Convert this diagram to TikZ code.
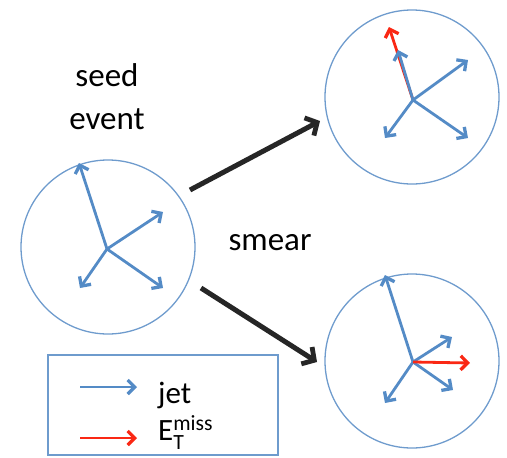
\documentclass[tikz,border=0pt]{standalone}
\usepackage{amsmath}
\usepackage{fontspec}
\setmainfont{Carlito}
\usepackage{tikz}
\usetikzlibrary{arrows.meta,positioning}
\definecolor{jetblue}{RGB}{84,139,198}
\definecolor{ringblue}{RGB}{110,155,205}
\definecolor{metred}{RGB}{250,40,20}
\definecolor{smeargray}{RGB}{38,38,38}

\begin{document}
\begin{tikzpicture}[
  x=1pt, y=-1pt,
  bigfont/.style={font=\fontsize{33}{43}\selectfont},
  legfont/.style={font=\fontsize{31}{36}\selectfont},
  evt/.style={draw=ringblue, line width=1.3pt, circle, minimum size=174pt, inner sep=0pt},
  jet/.style={line width=2.8pt, draw=jetblue, -{Straight Barb[length=7pt, width=14pt, line width=3.3pt]}},
  met/.style={line width=2.8pt, draw=metred, -{Straight Barb[length=7pt, width=14pt, line width=3.3pt]}},
  arr/.style={line width=5pt, draw=smeargray, -{Straight Barb[length=9pt, width=20pt, line width=4.8pt]}}
]
\useasboundingbox (0,0) rectangle (507,458);
% seed event
\node[evt] (seed) at (108,247) {};
\coordinate (s0) at (107,249);
\coordinate (s1) at (79,163);
\coordinate (s2) at (163,212);
\coordinate (s3) at (80,288);
\coordinate (s4) at (163,288);
\foreach \t in {s1,s2,s3,s4} \draw[jet] (s0) -- (\t);
\node[bigfont, align=center] (seedlbl) at (107,97) {seed\\event};

% smeared event, jet fluctuation
\node[evt] (upper) at (412,97) {};
\coordinate (u0) at (413,100);
\coordinate (u1) at (398,50);
\coordinate (u2) at (468,60);
\coordinate (u3) at (385,138);
\coordinate (u4) at (468,138);
\coordinate (umet) at (389,27);
\draw[met] (u0) -- (umet);
\foreach \t in {u1,u2,u3,u4} \draw[jet] (u0) -- (\t);

% smeared event, met
\node[evt] (lower) at (412,361) {};
\coordinate (l0) at (413,362);
\coordinate (l1) at (385,275);
\coordinate (l2) at (452,337);
\coordinate (l3) at (385,403);
\coordinate (l4) at (453,390);
\coordinate (lmet) at (470,363);
\foreach \t in {l1,l2,l3,l4} \draw[jet] (l0) -- (\t);
\draw[met] (l0) -- (lmet);

% smearing arrows
\coordinate (a1s) at (190,190);
\coordinate (a1e) at (320,121);
\coordinate (a2s) at (201,288);
\coordinate (a2e) at (317,362);
\draw[arr] (a1s) -- (a1e);
\draw[arr] (a2s) -- (a2e);
\node[bigfont, anchor=base] (smear) at (270,250) {smear};

% legend
\node[draw=ringblue, line width=1.3pt, minimum width=230pt, minimum height=100pt] (legend) at (163,405) {};
\coordinate (lj0) at (80,387);
\coordinate (lj1) at (137,387);
\coordinate (lm0) at (80,438);
\coordinate (lm1) at (137,438);
\draw[jet] (lj0) -- (lj1);
\draw[met] (lm0) -- (lm1);
\node[legfont, anchor=base west, inner sep=0pt] (jetlbl) at (158,403) {jet};
\node[legfont, anchor=base west, inner sep=0pt] (metlbl) at (158,440) {E$_{\text{T}}^{\text{miss}}$};
\end{tikzpicture}
\end{document}
